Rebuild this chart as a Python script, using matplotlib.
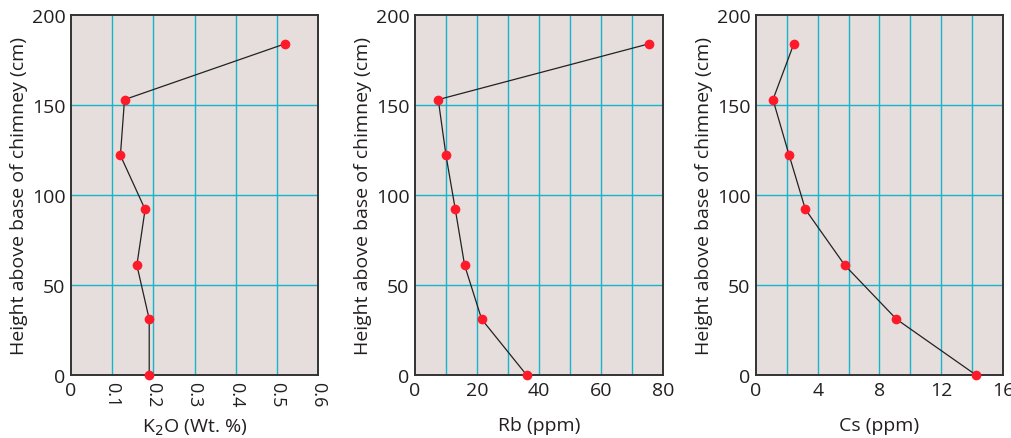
import matplotlib.pyplot as plt

plt.rcParams['font.family'] = ['Open Sans', 'DejaVu Sans']

# sample heights (cm above base of chimney)
height = [0, 31, 61, 92, 122, 153, 184]

k2o = [0.19, 0.19, 0.16, 0.18, 0.12, 0.13, 0.52]
rb = [36, 21.5, 16, 13, 10, 7.5, 75.5]
cs = [14.25, 9.1, 5.75, 3.2, 2.15, 1.1, 2.45]

k2o_ticks = [0, 0.1, 0.2, 0.3, 0.4, 0.5, 0.6]
k2o_labels = ['0', '0.1', '0.2', '0.3', '0.4', '0.5', '0.6']
rb_ticks = [0, 20, 40, 60, 80]
rb_grid = [10, 20, 30, 40, 50, 60, 70]
cs_ticks = [0, 4, 8, 12, 16]
cs_grid = [2, 4, 6, 8, 10, 12, 14]

bg = '#e5dedd'
gridc = '#18b5c8'
red = '#ff1a2a'

fig = plt.figure(figsize=(10.12, 4.39), dpi=100)
lefts = [71, 415, 756]
widths = [247, 248, 247]
axes = [fig.add_axes([l / 1012, 1 - 376 / 439, w / 1012, 360 / 439]) for l, w in zip(lefts, widths)]

panels = [
    (k2o, (0, 0.6), k2o_ticks[1:-1], 'K$_2$O (Wt. %)'),
    (rb, (0, 80), rb_grid, 'Rb (ppm)'),
    (cs, (0, 16), cs_grid, 'Cs (ppm)'),
]

for ax, (vals, xlim, vgrid, xlab) in zip(axes, panels):
    ax.set_facecolor(bg)
    for v in vgrid:
        ax.axvline(v, color=gridc, lw=1.0, zorder=1)
    for h in [50, 100, 150]:
        ax.axhline(h, color=gridc, lw=1.0, zorder=1)
    ax.plot(vals, height, color='#222222', lw=0.9, zorder=2)
    ax.plot(vals, height, 'o', color=red, ms=7, mec='none', zorder=3, clip_on=False)
    ax.set_xlim(*xlim)
    ax.set_ylim(0, 200)
    ax.set_yticks([0, 50, 100, 150, 200])
    ax.tick_params(length=0, labelsize=14, pad=4, colors='#231f20')
    ax.set_ylabel('Height above base of chimney (cm)', fontsize=14, color='#231f20')
    ax.yaxis.set_label_coords(-0.175, 0.5)
    ax.set_xlabel(xlab, fontsize=14, color='#231f20')
    ax.xaxis.set_label_coords(0.5, -0.115)
    for s in ax.spines.values():
        s.set_color('#333333')
        s.set_linewidth(1.4)

ax = axes[0]
ax.set_xticks(k2o_ticks)
ax.set_xticklabels(k2o_labels)
for i, t in enumerate(ax.get_xticklabels()):
    if i > 0:
        t.set_rotation(-90)
        t.set_va('top')
        t.set_fontsize(13)

axes[1].set_xticks(rb_ticks)
axes[2].set_xticks(cs_ticks)

fig.savefig('out.png', dpi=100)
